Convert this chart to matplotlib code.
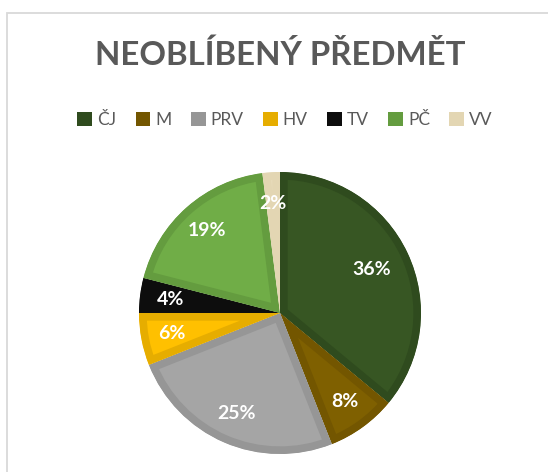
import matplotlib.pyplot as plt
from matplotlib.patches import Patch, Rectangle

# data
predmety = ["ČJ", "M", "PRV", "HV", "TV", "PČ", "VV"]
podiel = [36, 8, 25, 6, 4, 19, 2]
vypln = ["#375623", "#7f6000", "#a5a5a5", "#ffc000", "#0d0d0d", "#70ad47", "#e7dbba"]
okraj = ["#2f4b1e", "#735600", "#969696", "#e6ad00", "#0d0d0d", "#649c3f", "#e3d6b3"]

W, H = 548, 472
fig = plt.figure(figsize=(W / 100, H / 100), dpi=100)
fig.patch.set_facecolor("white")

# ram grafu
fig.add_artist(Rectangle((6.5 / W, -0.1), 1.2, (H - 12.5) / H + 0.1,
                         transform=fig.transFigure, fill=False,
                         edgecolor="#d9d9d9", linewidth=1.3))

fig.text(280 / W, 1 - 55 / H, "NEOBLÍBENÝ PŘEDMĚT", ha="center", va="center",
         fontsize=23.8, fontweight="bold", color="#595959", family=["Lato", "DejaVu Sans"])

cx, cy, r = 280, 313, 141
ax = fig.add_axes([(cx - r) / W, (H - cy - r) / H, 2 * r / W, 2 * r / H])
wedges, texts, autotexts = ax.pie(
    podiel, startangle=90, counterclock=False, radius=1,
    colors=vypln, autopct=lambda p: f"{p:.0f}%", pctdistance=0.78,
    textprops=dict(color="white", fontsize=14, fontweight="bold",
                   family=["Lato", "DejaVu Sans"]),
)
# vnutorny okraj vysekov (ako v Exceli)
for w, ec in zip(wedges, okraj):
    w.set_edgecolor(ec)
    w.set_linewidth(11)
    w.set_clip_on(True)
    w.set_clip_path(w)
# 36% je v Exceli trochu blizsie k stredu
x0, y0 = autotexts[0].get_position()
autotexts[0].set_position((x0 * 0.72 / 0.78, y0 * 0.72 / 0.78))
ax.set_xlim(-1, 1)
ax.set_ylim(-1, 1)
ax.axis("off")

handles = [Patch(facecolor=c, edgecolor="none") for c in okraj]
fig.legend(handles, predmety, loc="center", bbox_to_anchor=(285 / W, 1 - 120 / H),
           ncol=len(predmety), frameon=False, handlelength=0.85, handleheight=0.85,
           handletextpad=0.3, columnspacing=1.1,
           prop=dict(family=["Lato", "DejaVu Sans"], size=12.5), labelcolor="#595959")

plt.savefig("out.png", dpi=100)
